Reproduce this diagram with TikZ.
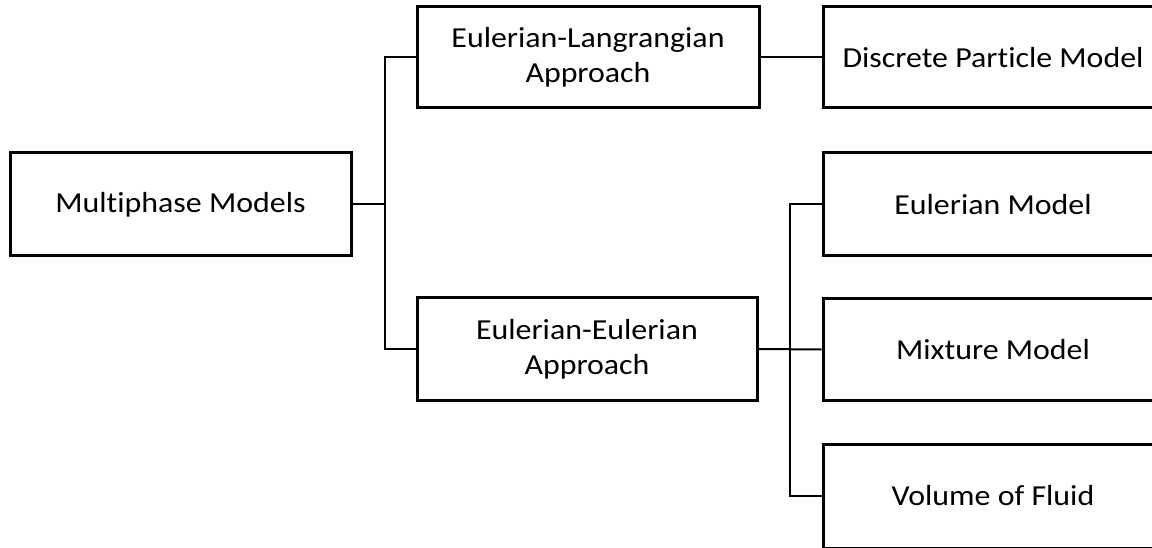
\documentclass[tikz,border=0pt]{standalone}
\usepackage{fontspec}
\usepackage{graphicx}
\setmainfont{Carlito}[Ligatures=NoCommon]
% labels are set slightly wide
\newcommand{\wide}[1]{\scalebox{1.1}[1]{#1}}
\begin{document}
\begin{tikzpicture}[x=1pt,y=-1pt,
  box/.style={draw=black, line width=3pt, fill=white, align=center,
    inner sep=0pt, font=\fontsize{29}{35}\selectfont},
  link/.style={draw=black, line width=2pt}]
\useasboundingbox (0,0) rectangle (1152,548);
\clip (0,0) rectangle (1152,548);
% first level
\node[box, minimum width=341pt, minimum height=103pt] (mp) at (180.5,204.5) {\wide{Multiphase Models}};
% approaches
\node[box, minimum width=342pt, minimum height=101pt] (el) at (588,57.5) {\wide{Eulerian-Langrangian}\\\wide{Approach}};
\node[box, minimum width=340pt, minimum height=102pt] (ee) at (587,349) {\wide{Eulerian-Eulerian}\\\wide{Approach}};
% models
\node[box, minimum width=340pt, minimum height=101pt] (dpm) at (993,57.5) {\wide{Discrete Particle Model}};
\node[box, minimum width=340pt, minimum height=103pt] (em) at (993,204.5) {\wide{Eulerian Model}};
\node[box, minimum width=340pt, minimum height=102pt] (mm) at (993,349.5) {\wide{Mixture Model}};
\node[box, minimum width=340pt, minimum height=104pt] (vf) at (993,496) {\wide{Volume of Fluid}};
% junctions
\coordinate (j1) at (385,204.5);
\coordinate (j2) at (790,349);
% connectors
\draw[link] (mp.east) -- (j1);
\draw[link] (el.west) -| (j1);
\draw[link] (ee.west) -| (j1);
\draw[link] (el.east) -- (dpm.west);
\draw[link] (ee.east) -- (mm.west);
\draw[link] (em.west) -| (j2);
\draw[link] (vf.west) -| (j2);
\end{tikzpicture}
\end{document}
